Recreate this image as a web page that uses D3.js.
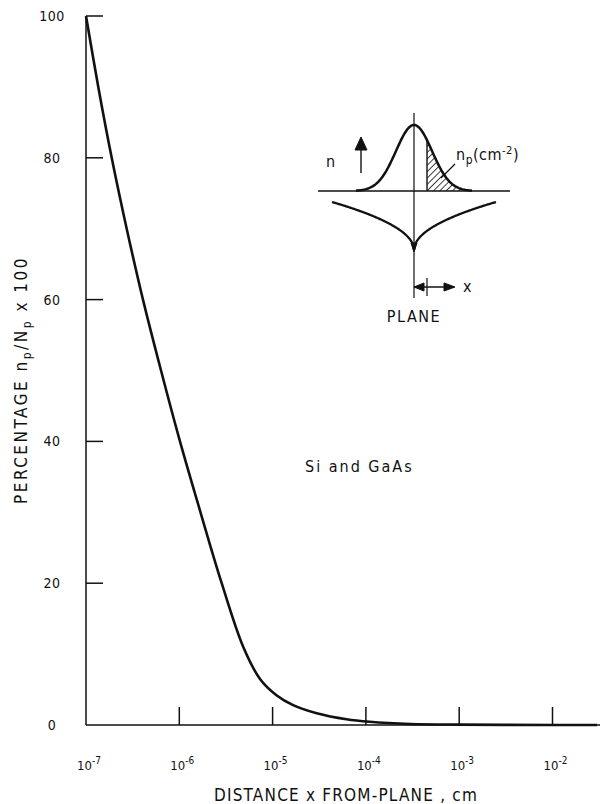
<!DOCTYPE html>
<html lang="en">

<head>
    <meta charset="utf-8">
    <title>Percentage vs distance from plane</title>
    <script src="https://d3js.org/d3.v7.min.js"></script>
    <style>
        body { margin: 0; background: #fff; }
        text { font-family: "DejaVu Sans Condensed", "DejaVu Sans", sans-serif; fill: #111; }
    </style>
</head>

<body>
    <svg width="602" height="804"></svg>

    <script>
        // distance from plane (cm) and percentage n_p/N_p x 100
        const distance = [1e-7, 1.354e-7, 1.886e-7, 2.73e-7, 4.08e-7, 6.37e-7, 1.017e-6, 1.687e-6, 2.847e-6,
            4.85e-6, 7.33e-6, 1.1e-5, 1.66e-5, 2.97e-5, 6.2e-5, 1.1e-4, 3e-4, 1e-3, 1e-2, 3e-2];
        const percent = [100, 90, 80, 70, 60, 50, 40, 30, 20,
            11, 6.5, 4.2, 2.8, 1.65, 0.8, 0.45, 0.15, 0.05, 0, 0];

        const yTicks = [20, 40, 60, 80, 100];
        const xTickExp = [-7, -6, -5, -4, -3, -2];

        const svg = d3.select("svg");

        const x0 = 86, x1 = 600, y0 = 725, y1 = 16;
        const decade = 93.3;

        const x = d3.scaleLog()
            .domain([1e-7, Math.pow(10, -7 + (x1 - x0) / decade)])
            .range([x0, x1]);
        const y = d3.scaleLinear().domain([0, 100]).range([y0, y1]);

        // axes
        const axes = svg.append("g")
            .attr("stroke", "#111")
            .attr("stroke-width", 1.5)
            .attr("fill", "none");

        axes.append("line").attr("x1", x0).attr("x2", x0).attr("y1", y1).attr("y2", y0);
        axes.append("line").attr("x1", x0).attr("x2", x1).attr("y1", y0).attr("y2", y0);

        axes.selectAll(".yt")
            .data(yTicks)
            .join("line")
            .attr("x1", x0).attr("x2", x0 + 17)
            .attr("y1", d => y(d)).attr("y2", d => y(d));

        axes.selectAll(".xt")
            .data(xTickExp.slice(1))
            .join("line")
            .attr("x1", d => x(Math.pow(10, d))).attr("x2", d => x(Math.pow(10, d)))
            .attr("y1", y0).attr("y2", y0 - 18);

        svg.append("g").selectAll("text")
            .data([0].concat(yTicks))
            .join("text")
            .attr("x", 52)
            .attr("y", d => y(d) + 5)
            .attr("text-anchor", "middle")
            .attr("font-size", 14)
            .attr("letter-spacing", 0.5)
            .text(d => d);

        const xl = svg.append("g").selectAll("text")
            .data(xTickExp)
            .join("text")
            .attr("x", d => x(Math.pow(10, d)) - 9)
            .attr("y", 770)
            .attr("font-size", 13);
        xl.append("tspan").text("10");
        xl.append("tspan").attr("dy", -6).attr("font-size", 10).text(d => "-" + (-d));

        // axis titles
        svg.append("text")
            .attr("x", 346)
            .attr("y", 801)
            .attr("text-anchor", "middle")
            .attr("font-size", 17)
            .attr("letter-spacing", 1.2)
            .text("DISTANCE x FROM-PLANE , cm");

        const yt = svg.append("text")
            .attr("transform", "translate(27,380) rotate(-90)")
            .attr("text-anchor", "middle")
            .attr("font-size", 17)
            .attr("letter-spacing", 2.5);
        yt.append("tspan").text("PERCENTAGE n");
        yt.append("tspan").attr("dy", 4).attr("font-size", 12).text("p");
        yt.append("tspan").attr("dy", -4).text("/N");
        yt.append("tspan").attr("dy", 4).attr("font-size", 12).text("p");
        yt.append("tspan").attr("dy", -4).text(" x 100");

        // curve
        const pts = distance.map((d, i) => [x(d), y(percent[i])]);
        svg.append("path")
            .attr("d", d3.line().curve(d3.curveCatmullRom.alpha(0.5))(pts))
            .attr("fill", "none")
            .attr("stroke", "#111")
            .attr("stroke-width", 2.6);

        svg.append("text")
            .attr("x", 305)
            .attr("y", 472)
            .attr("font-size", 16)
            .attr("letter-spacing", 2)
            .text("Si and GaAs");

        // inset sketch
        const ins = svg.append("g").attr("stroke", "#111").attr("fill", "none");
        const cx = 414, base = 191, peak = 125, sig = 18;
        const gx = d3.range(-58, 58.5, 1);
        const gauss = gx.map(t => [cx + t, base - (base - peak) * Math.exp(-t * t / (2 * sig * sig))]);

        const defs = svg.append("defs");
        defs.append("pattern")
            .attr("id", "hatch")
            .attr("patternUnits", "userSpaceOnUse")
            .attr("width", 4.5).attr("height", 4.5)
            .attr("patternTransform", "rotate(45)")
            .append("line")
            .attr("x1", 0).attr("y1", 0).attr("x2", 0).attr("y2", 4.5)
            .attr("stroke", "#111").attr("stroke-width", 1.6);

        const shade = gauss.filter(p => p[0] >= 427);
        ins.append("path")
            .attr("d", d3.line()([[427, base]].concat(shade).concat([[shade[shade.length - 1][0], base]])) + "Z")
            .attr("fill", "url(#hatch)")
            .attr("stroke", "none");

        ins.append("line").attr("x1", 318).attr("x2", 510).attr("y1", base).attr("y2", base).attr("stroke-width", 1.6);
        ins.append("line").attr("x1", cx).attr("x2", cx).attr("y1", 113).attr("y2", 298).attr("stroke-width", 1.2);
        ins.append("line").attr("x1", 427).attr("x2", 427).attr("y1", base).attr("y2", gauss.find(p => p[0] >= 427)[1]).attr("stroke-width", 1.4);
        ins.append("path").attr("d", d3.line()(gauss)).attr("stroke-width", 2.5);

        // potential cusp
        const lx = d3.range(-82, 82.5, 1);
        const cusp = lx.map(t => [cx + t, 250 - 48 * Math.sqrt(Math.abs(t) / 82)]);
        ins.append("path").attr("d", d3.line()(cusp)).attr("stroke-width", 2.3);
        ins.append("path").attr("d", `M${cx - 3},243 L${cx + 3},243 L${cx},252 Z`).attr("fill", "#111");

        // n arrow
        ins.append("line").attr("x1", 361).attr("x2", 361).attr("y1", 173).attr("y2", 148).attr("stroke-width", 1.4);
        ins.append("path").attr("d", "M355,150 L367,150 L361,137 Z").attr("fill", "#111");

        // x arrow
        ins.append("line").attr("x1", cx).attr("x2", 447).attr("y1", 287).attr("y2", 287).attr("stroke-width", 1.4);
        ins.append("line").attr("x1", 427).attr("x2", 427).attr("y1", 278).attr("y2", 296).attr("stroke-width", 1.2);
        ins.append("path").attr("d", `M${cx},287 L424,283 L424,291 Z`).attr("fill", "#111");
        ins.append("path").attr("d", "M455,287 L444,283 L444,291 Z").attr("fill", "#111");

        // leader to label
        ins.append("line").attr("x1", 441).attr("x2", 455).attr("y1", 178).attr("y2", 164).attr("stroke-width", 1.2);

        svg.append("text").attr("x", 326).attr("y", 167).attr("font-size", 16).text("n");
        const np = svg.append("text").attr("x", 456).attr("y", 160).attr("font-size", 16).attr("letter-spacing", 0.5);
        np.append("tspan").text("n");
        np.append("tspan").attr("dy", 4).attr("font-size", 12).text("p");
        np.append("tspan").attr("dy", -4).text("(cm");
        np.append("tspan").attr("dy", -6).attr("font-size", 11).text("-2");
        np.append("tspan").attr("dy", 6).text(")");
        svg.append("text").attr("x", 463).attr("y", 292).attr("font-size", 16).text("x");
        svg.append("text").attr("x", cx).attr("y", 322).attr("text-anchor", "middle").attr("font-size", 16).attr("letter-spacing", 1.5).text("PLANE");
    </script>
</body>

</html>
